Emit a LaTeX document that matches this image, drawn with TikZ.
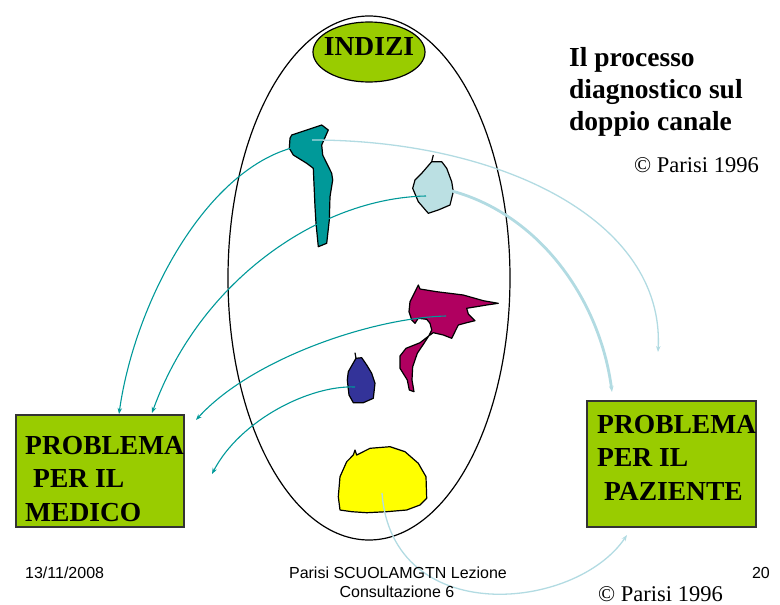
\documentclass[tikz,border=0pt]{standalone}
\usepackage{fontspec}
\setmainfont{Liberation Serif}
\newfontfamily\footfont{Liberation Sans}
\usetikzlibrary{arrows.meta,shapes.geometric}
\definecolor{boxgreen}{RGB}{153,204,0}
\definecolor{tealc}{RGB}{0,153,153}
\definecolor{lblue}{RGB}{187,224,227}
\definecolor{lline}{RGB}{178,219,226}
\definecolor{magen}{RGB}{176,0,96}
\definecolor{navyc}{RGB}{51,51,153}
\definecolor{yellc}{RGB}{255,255,0}
\begin{document}
\begin{tikzpicture}[x=1pt,y=-1pt,
  blob/.style={draw=black, line width=1.2pt, line join=round},
  tarrow/.style={draw=tealc, line width=1.1pt, -{Stealth[length=6pt,width=4.5pt]}},
  larrow/.style={draw=lline, line width=1.3pt, -{Stealth[length=6pt,width=4.5pt]}},
  bigtxt/.style={font=\fontsize{27.5}{33}\selectfont\bfseries, anchor=base west, inner sep=0pt},
  titletxt/.style={font=\fontsize{27.5}{33}\selectfont\bfseries, anchor=base west, inner sep=0pt},
  copytxt/.style={font=\fontsize{22.5}{26}\selectfont, anchor=base west, inner sep=0pt},
  foot/.style={font=\footfont\fontsize{16}{19}\selectfont, inner sep=0pt},
  probbox/.style={draw=black!80, line width=1.3pt, fill=boxgreen, anchor=north west, inner sep=0pt, outer sep=0pt}
]
\useasboundingbox (0,0) rectangle (780,605);

% big ellipse
\node[draw=black, line width=1.2pt, ellipse, minimum width=282pt, minimum height=524pt, inner sep=0pt] (big) at (369,278) {};
% INDIZI
\node[draw=black, line width=1.2pt, ellipse, fill=boxgreen, minimum width=112pt, minimum height=60pt, inner sep=0pt] (ind) at (369,52) {};
\node[bigtxt, anchor=base] (indt) at (369,56) {INDIZI};

% teal shape
\draw[blob, fill=tealc] (291.7,135) -- (321.7,125) -- (328.3,130) -- (321.7,145) -- (322.7,155) -- (331.7,173.3) -- (332.7,180) -- (330,196.7) -- (329.3,220) -- (326.7,243.3) -- (318.3,246.7) -- (316,223.3) -- (315,206.7) -- (313.3,168.3) -- (306.7,163.3) -- (293.3,155) -- (289.3,148.3) -- (290,138.3) -- cycle;
% light blue shape
\draw[blob, fill=lblue] (431.7,161.7) -- (441.7,161.7) -- (446.7,168.3) -- (451.7,181.7) -- (453.3,191.7) -- (450,205) -- (438.3,210) -- (428.3,213.3) -- (418.3,201.7) -- (412.7,188.3) -- (415,180) -- (421.7,173.3) -- cycle;
\draw[blob] (431.7,161.7) -- (433.3,155);
% magenta shape
\draw[blob, fill=magen] (418.3,285) -- (420,289) -- (436.7,291.7) -- (463.3,295) -- (483.3,300.7) -- (498.3,303.3) -- (486.7,305) -- (466.7,308.3) -- (468.3,314) -- (475,320.7) -- (466.7,322.7) -- (458.3,325) -- (451.7,338.3) -- (443.3,335) -- (433.3,332.7) -- (430,335) -- (420,342.7) -- (406,348.3) -- (400,356) -- (400,368.3) -- (407.3,380) -- (409.3,390) -- (414,391.7) -- (412,380) -- (412.7,366.7) -- (417.3,353.3) -- (424,343.3) -- (428.7,336) -- (431.7,330) -- (430,323.3) -- (426.7,319.3) -- (418.3,318.3) -- (415,323.3) -- (411.7,320) -- (409,311.7) -- (410,301.7) -- (415,291.7) -- cycle;
% navy shape
\draw[blob, fill=navyc] (356,358.3) -- (361.7,357.7) -- (366.7,365) -- (371.7,373.3) -- (375,383.3) -- (373.3,398.3) -- (363.3,402.7) -- (353.3,402.7) -- (349,395) -- (347.3,380) -- (348.3,371.7) -- (354,361.7) -- cycle;
\draw[blob] (356,358.3) -- (355,352.7);
% yellow shape
\draw[blob, fill=yellc] (355,450) -- (356.7,455) -- (370,448.3) -- (390,446.7) -- (405,451.7) -- (418.3,463.3) -- (426,476.7) -- (426.7,498.3) -- (420,505) -- (406.7,510) -- (386.7,511.7) -- (366.7,512.7) -- (351.7,511.7) -- (340,510) -- (338.3,496.7) -- (340,476.7) -- (346.7,461.7) -- (353.3,455) -- cycle;

% boxes
\node[probbox, minimum width=168pt, minimum height=112pt] (boxL) at (16,415) {};
\node[probbox, minimum width=169pt, minimum height=126pt] (boxR) at (587,401) {};

% connector end points
\coordinate (s1) at (305,145);
\coordinate (e1) at (119,414);
\coordinate (s2) at (426,196);
\coordinate (e2) at (152,413);
\coordinate (s3) at (446,316);
\coordinate (e3) at (196,420);
\coordinate (s4) at (355,387);
\coordinate (e4) at (212,474);
\coordinate (s5) at (312,140);
\coordinate (e5) at (658,352);
\coordinate (s6) at (452,191);
\coordinate (e6) at (612,392);
\coordinate (s7) at (382,493);
\coordinate (e7) at (627,535);

% teal arrows
\draw[tarrow] (s1) .. controls (210,160) and (135,300) .. (e1);
\draw[tarrow] (s2) .. controls (320,198) and (200,280) .. (e2);
\draw[tarrow] (s3) .. controls (370,318) and (250,360) .. (e3);
\draw[tarrow] (s4) .. controls (310,385) and (240,420) .. (e4);
% light blue arrows
\draw[larrow] (s5) .. controls (500,140) and (665,220) .. (e5);
\draw[larrow, line width=2.8pt] (s6) .. controls (540,215) and (600,300) .. (e6);
\draw[larrow] (s7) .. controls (392,628) and (575,612) .. (e7);

% box texts
\node[bigtxt] (l1) at (25,454) {PROBLEMA};
\node[bigtxt] (l2) at (33,487) {PER IL};
\node[bigtxt] (l3) at (25,521) {MEDICO};
\node[bigtxt] (r1) at (597,433) {PROBLEMA};
\node[bigtxt] (r2) at (597,466) {PER IL};
\node[bigtxt] (r3) at (604,500) {PAZIENTE};

% title
\node[titletxt] (t1) at (569,66) {Il processo};
\node[titletxt] (t2) at (569,98) {diagnostico sul};
\node[titletxt] (t3) at (569,130) {doppio canale};
\node[copytxt] (c1) at (634,172) {© Parisi 1996};
\node[copytxt] (c2) at (598,601) {© Parisi 1996};

% footer
\node[foot, anchor=base west] (date) at (25,578) {13/11/2008};
\node[foot, anchor=base] (ft1) at (398,578) {Parisi SCUOLAMGTN Lezione};
\node[foot, anchor=base] (ft2) at (397,597) {Consultazione 6};
\node[foot, anchor=base east] (pg) at (770,578) {20};
\end{tikzpicture}
\end{document}
